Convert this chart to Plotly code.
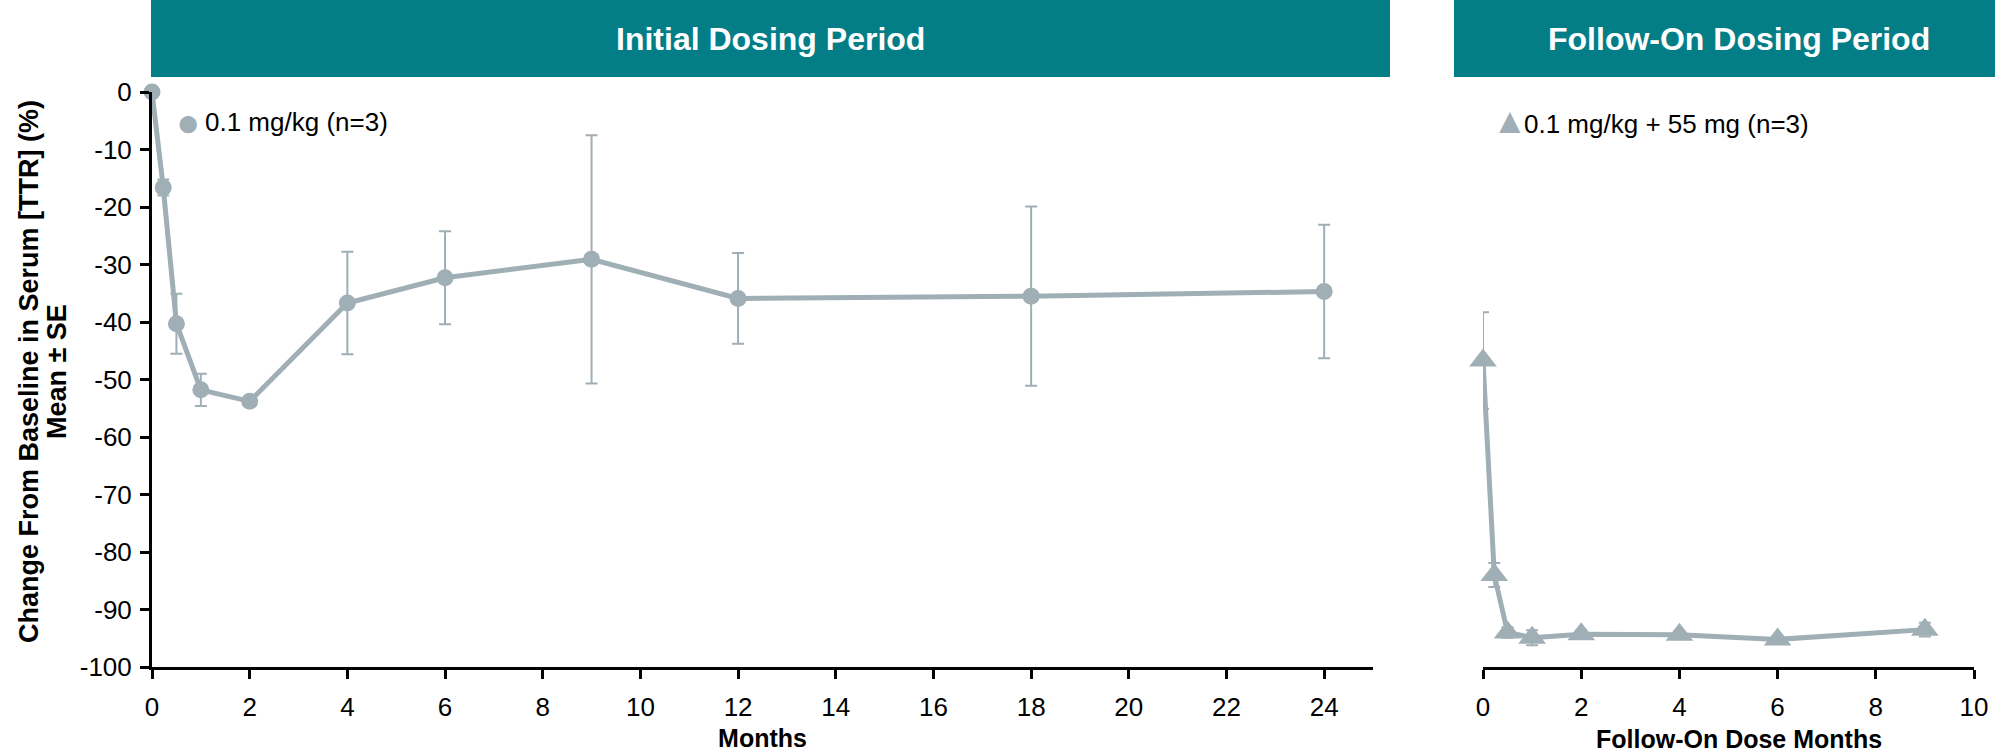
import plotly.graph_objects as go

# ---- data ----
initial_months = [0, 0.23, 0.5, 1, 2, 4, 6, 9, 12, 18, 24]
initial_mean = [0, -16.6, -40.3, -51.8, -53.8, -36.7, -32.3, -29.1, -35.9, -35.5, -34.7]
initial_se = [0, 1.4, 5.2, 2.8, 0.8, 8.9, 8.1, 21.6, 7.9, 15.6, 11.6]

followon_months = [0, 0.23, 0.5, 1, 2, 4, 6, 9]
followon_mean = [-46.7, -84.0, -94.0, -94.9, -94.3, -94.4, -95.2, -93.5]
followon_se = [8.4, 2.1, 0.9, 1.3, 0.7, 0.6, 0.6, 1.2]

initial_label = "0.1 mg/kg (n=3)"
followon_label = "0.1 mg/kg + 55 mg (n=3)"
panel_titles = ["Initial Dosing Period", "Follow-On Dosing Period"]
y_title_lines = ["Change From Baseline in Serum [TTR] (%)", "Mean ± SE"]
x_titles = ["Months", "Follow-On Dose Months"]
y_ticks = list(range(-100, 1, 10))
y_ticktext = [str(v) for v in y_ticks]
x1_ticks = list(range(0, 25, 2))
x2_ticks = list(range(0, 11, 2))

# ---- styles ----
W, H = 1995, 755
GRAY = "#9FAFB5"
TEAL = "#037E87"
FONT = "Liberation Sans, Arial, sans-serif"

def px(x):
    return x / W

def py(y):
    return 1 - y / H

fig = go.Figure()

fig.add_trace(go.Scatter(
    x=initial_months, y=initial_mean, mode="lines+markers",
    line=dict(color=GRAY, width=5),
    marker=dict(symbol="circle", size=17, color=GRAY),
    error_y=dict(type="data", array=initial_se, color=GRAY, thickness=2, width=6),
    cliponaxis=False, showlegend=False, name=initial_label,
    xaxis="x", yaxis="y",
))
fig.add_trace(go.Scatter(
    x=followon_months, y=followon_mean, mode="lines+markers",
    line=dict(color=GRAY, width=5),
    marker=dict(symbol="triangle-up", size=24, color=GRAY),
    error_y=dict(type="data", array=followon_se, color=GRAY, thickness=2, width=6),
    cliponaxis=False, showlegend=False, name=followon_label,
    xaxis="x2", yaxis="y2",
))

ydom = [py(667), py(92)]
axis_common = dict(
    showgrid=False, zeroline=False, showline=True, linecolor="black", linewidth=3,
    ticks="outside", ticklen=9, tickwidth=3, tickcolor="black",
    tickfont=dict(family=FONT, size=26, color="black"),
    automargin=False,
)

fig.update_layout(
    width=W, height=H, autosize=False,
    margin=dict(l=0, r=0, t=0, b=0, pad=0, autoexpand=False),
    paper_bgcolor="white", plot_bgcolor="white",
    font=dict(family=FONT, color="black"),
    xaxis=dict(domain=[px(152), px(1373)], range=[0, 25], tickvals=x1_ticks,
               anchor="y", ticklabelstandoff=6,
               title=dict(text=f"<b>{x_titles[0]}</b>", font=dict(size=25, family=FONT), standoff=9),
               **axis_common),
    yaxis=dict(domain=ydom, range=[-100, 0], tickvals=y_ticks, ticktext=y_ticktext,
               anchor="x", ticklabelstandoff=3, **axis_common),
    xaxis2=dict(domain=[px(1483), px(1974)], range=[0, 10], tickvals=x2_ticks,
                anchor="y2", ticklabelstandoff=6, **axis_common),
    yaxis2=dict(domain=ydom, range=[-100, 0], anchor="x2", showline=False,
                showticklabels=False, ticks="", showgrid=False, zeroline=False),
)

# y-axis title (two tightly spaced lines)
for txt, xc in zip(y_title_lines, [29, 57]):
    fig.add_annotation(xref="paper", yref="paper", x=px(xc), y=py(372),
                       text=f"<b>{txt}</b>", showarrow=False, textangle=-90,
                       xanchor="center", yanchor="middle",
                       font=dict(family=FONT, size=27, color="black"))

# follow-on x-axis title
fig.add_annotation(xref="paper", yref="paper", x=px(1739), y=py(739),
                   text=f"<b>{x_titles[1]}</b>", showarrow=False,
                   xanchor="center", yanchor="middle",
                   font=dict(family=FONT, size=25, color="black"))

# header bars
headers = [(151, 1390, panel_titles[0], 770), (1454, 1995, panel_titles[1], 1739)]
for x0, x1, txt, xc in headers:
    fig.add_shape(type="rect", xref="paper", yref="paper",
                  x0=px(x0), x1=px(x1), y0=py(77), y1=py(0),
                  fillcolor=TEAL, line=dict(width=0), layer="below")
    fig.add_annotation(xref="paper", yref="paper", x=px(xc), y=py(39),
                       text=f"<b>{txt}</b>", showarrow=False,
                       xanchor="center", yanchor="middle",
                       font=dict(family=FONT, size=32, color="white"))

# legend-like labels (symbol + text)
fig.add_annotation(xref="paper", yref="paper", x=px(188), y=py(122),
                   text="●", showarrow=False, xanchor="center", yanchor="middle",
                   font=dict(family=FONT, size=40, color=GRAY))
fig.add_annotation(xref="paper", yref="paper", x=px(203), y=py(122),
                   text=initial_label, showarrow=False, xanchor="left", yanchor="middle",
                   font=dict(family=FONT, size=26, color="black"))
fig.add_annotation(xref="paper", yref="paper", x=px(1510), y=py(121),
                   text="▲", showarrow=False, xanchor="center", yanchor="middle",
                   font=dict(family=FONT, size=36, color=GRAY))
fig.add_annotation(xref="paper", yref="paper", x=px(1522), y=py(124),
                   text=followon_label, showarrow=False, xanchor="left", yanchor="middle",
                   font=dict(family=FONT, size=26, color="black"))

post = (
    "document.documentElement.style.margin='0';"
    "document.body.style.margin='0';document.body.style.overflow='hidden';"
)
fig.write_html("out.html", post_script=post)
